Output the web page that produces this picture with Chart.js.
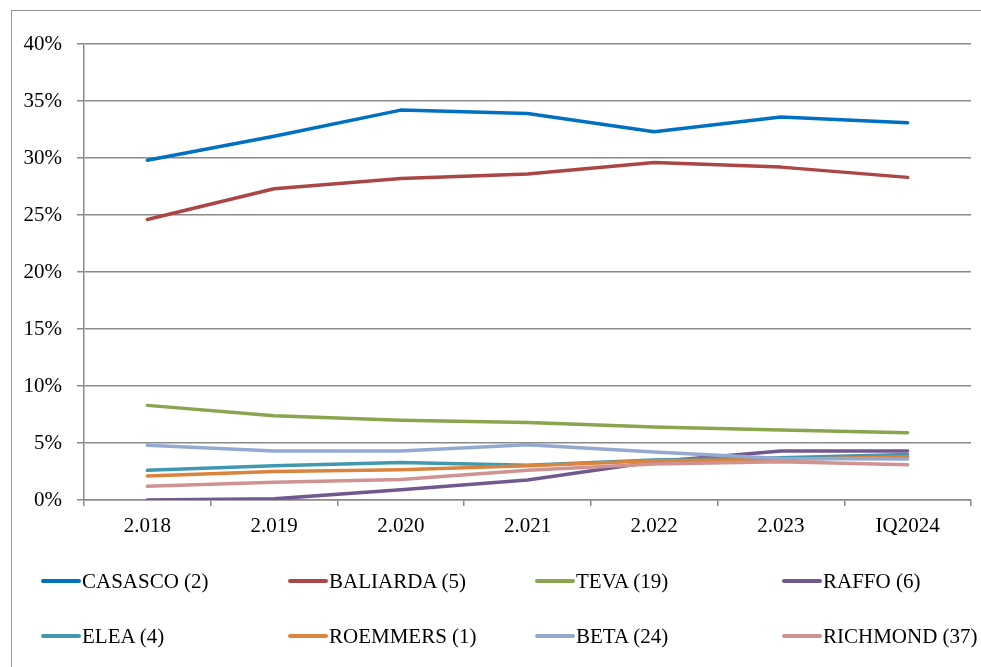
<!DOCTYPE html>
<html>
<head>
<meta charset="utf-8">
<script src="https://cdn.jsdelivr.net/npm/chart.js@4"></script>
<style>
  html, body { margin:0; padding:0; background:#fff; }
  #wrap { position:relative; width:981px; height:667px; overflow:hidden; }
  #frame { position:absolute; left:11px; top:10px; width:1000px; height:700px; border:1px solid #9a9a9a; box-sizing:border-box; }
  canvas { position:absolute; left:0; top:0; }
  .lg { position:absolute; font-family:"Liberation Serif","Times New Roman",serif; font-size:21px; color:#000; display:flex; align-items:center; height:24px; white-space:nowrap; }
  .lg span.sw { display:inline-block; width:40px; height:4px; border-radius:2px; margin-right:1px; }
</style>
</head>
<body>
<div id="wrap">
  <div id="frame"></div>
  <canvas id="c" width="981" height="667"></canvas>
  <div id="legend"></div>
</div>
<script>
const categories = ['2.018','2.019','2.020','2.021','2.022','2.023','IQ2024'];
const seriesNames = ['CASASCO (2)','BALIARDA (5)','TEVA (19)','RAFFO (6)','ELEA (4)','ROEMMERS (1)','BETA (24)','RICHMOND (37)'];
const casasco  = [29.8, 31.9, 34.2, 33.9, 32.3, 33.6, 33.1];
const baliarda = [24.6, 27.3, 28.2, 28.6, 29.6, 29.2, 28.3];
const teva     = [8.3, 7.4, 7.0, 6.8, 6.4, 6.15, 5.9];
const raffo    = [0.0, 0.1, 0.9, 1.75, 3.35, 4.3, 4.3];
const elea     = [2.6, 3.0, 3.3, 3.05, 3.5, 3.7, 4.0];
const roemmers = [2.1, 2.5, 2.65, 3.0, 3.45, 3.55, 3.8];
const beta     = [4.8, 4.3, 4.3, 4.85, 4.2, 3.65, 3.6];
const richmond = [1.2, 1.55, 1.8, 2.6, 3.15, 3.35, 3.1];
const yTicks = [0,5,10,15,20,25,30,35,40];

const colors = ['#0070C0','#AA4643','#89A54E','#71588F','#4198AF','#DB843D','#93A9CF','#D19392'];
const allSeries = [casasco, baliarda, teva, raffo, elea, roemmers, beta, richmond];

const datasets = allSeries.map((d,i)=>({
  label: seriesNames[i],
  data: d,
  borderColor: colors[i],
  backgroundColor: colors[i],
  borderWidth: 3.5,
  pointRadius: 0,
  tension: 0,
  borderJoinStyle: 'round',
  borderCapStyle: 'round',
  order: -i
}));

const FONT = {family: '"Liberation Serif", "Times New Roman", serif', size: 21};

new Chart(document.getElementById('c'), {
  type: 'line',
  data: { labels: categories, datasets },
  options: {
    responsive: false,
    animation: false,
    events: [],
    layout: { padding: { left: 0, top: 44, right: 10, bottom: 0 } },
    plugins: { legend: { display: false }, tooltip: { enabled: false } },
    scales: {
      x: {
        offset: true,
        afterFit: s => { s.height = 167; },
        grid: { offset: true, drawOnChartArea: false, drawTicks: true, tickLength: 6, color: '#8a8a8a', lineWidth: 1.5 },
        border: { color: '#8a8a8a', width: 1.5 },
        ticks: { font: FONT, color: '#000', padding: 8, maxRotation: 0, autoSkip: false }
      },
      y: {
        min: 0, max: 40,
        afterFit: s => { s.width = 84; },
        afterBuildTicks: s => { s.ticks = yTicks.map(v => ({value: v})); },
        grid: { color: '#8a8a8a', lineWidth: 1.5, drawTicks: true, tickLength: 7 },
        border: { color: '#8a8a8a', width: 1.5 },
        ticks: { font: FONT, color: '#000', padding: 15, callback: v => v + '%' }
      }
    }
  }
});

const lg = document.getElementById('legend');
seriesNames.forEach((n,i)=>{
  const d = document.createElement('div');
  d.className = 'lg';
  d.style.left = (41 + 247*(i%4)) + 'px';
  d.style.top = (i < 4 ? 569 : 624) + 'px';
  d.innerHTML = '<span class="sw" style="background:'+colors[i]+'"></span>' + n;
  lg.appendChild(d);
});
</script>
</body>
</html>
